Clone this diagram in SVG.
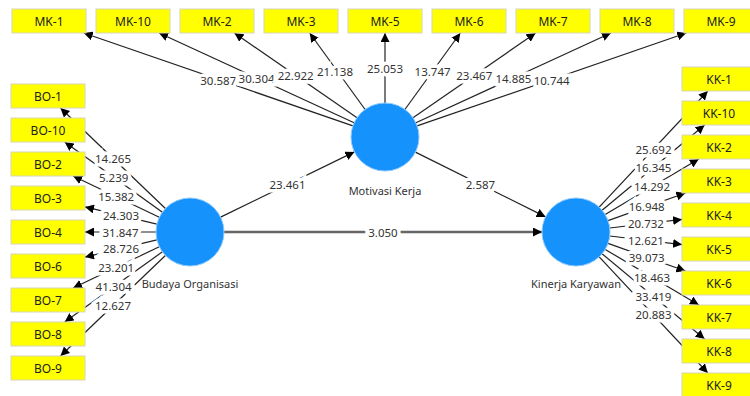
<svg xmlns="http://www.w3.org/2000/svg" width="750" height="396" viewBox="0 0 750 396">
<style>
.bg{fill:#ffffff}
.box{fill:#ffff00;stroke:#d6d6b8;stroke-width:1}
.bt{font-family:"Noto Sans","Open Sans",sans-serif;font-size:12px;fill:#222;text-anchor:middle;dominant-baseline:central}
.lv{fill:#1592fc;stroke:#8cc8fd;stroke-width:1}
.nl{font-family:"Noto Sans","Open Sans",sans-serif;font-size:11px;fill:#333;text-anchor:middle;dominant-baseline:central}
.c{stroke:#222;stroke-width:1.2;fill:none;marker-end:url(#ah)}
.cg{stroke:#666;stroke-width:2.4;fill:none;marker-end:url(#ah)}
.lb{font-family:"Noto Sans","Open Sans",sans-serif;font-size:11.5px;fill:#333;text-anchor:middle;dominant-baseline:central;stroke:#fff;stroke-width:7;paint-order:stroke;stroke-linejoin:miter}
</style>
<defs>
<marker id="ah" markerUnits="userSpaceOnUse" markerWidth="10" markerHeight="9" refX="9" refY="4.5" orient="auto">
<path d="M0,0 L9,4.5 L0,9 z" fill="#000"/>
</marker>
</defs>
<rect class="bg" x="0" y="0" width="750" height="396"/>
<g id="connectors">
<line class="c" x1="352.9" y1="125.9" x2="83.8" y2="33"/>
<line class="c" x1="354.1" y1="122.8" x2="159.1" y2="33"/>
<line class="c" x1="357" y1="117.7" x2="234.4" y2="33"/>
<line class="c" x1="365.1" y1="109.5" x2="309.7" y2="33"/>
<line class="c" x1="385" y1="103" x2="385" y2="33"/>
<line class="c" x1="404.9" y1="109.5" x2="460.3" y2="33"/>
<line class="c" x1="413" y1="117.7" x2="535.6" y2="33"/>
<line class="c" x1="415.9" y1="122.8" x2="610.9" y2="33"/>
<line class="c" x1="417.1" y1="125.9" x2="686.2" y2="33"/>
<line class="c" x1="165.4" y1="208.5" x2="60.5" y2="108"/>
<line class="c" x1="162.4" y1="212.2" x2="64.7" y2="142"/>
<line class="c" x1="159.3" y1="217.3" x2="73.1" y2="176"/>
<line class="c" x1="156.9" y1="224.1" x2="85" y2="206.9"/>
<line class="c" x1="156" y1="232" x2="85" y2="232"/>
<line class="c" x1="156.9" y1="239.9" x2="85" y2="257.1"/>
<line class="c" x1="159.3" y1="246.7" x2="73.1" y2="288"/>
<line class="c" x1="162.4" y1="251.8" x2="64.7" y2="322"/>
<line class="c" x1="165.4" y1="255.5" x2="60.5" y2="356"/>
<line class="c" x1="599.2" y1="207.2" x2="707.8" y2="91"/>
<line class="c" x1="602.1" y1="210.2" x2="704.6" y2="125"/>
<line class="c" x1="605.2" y1="214.6" x2="698.8" y2="159"/>
<line class="c" x1="608" y1="220.6" x2="685.4" y2="193"/>
<line class="c" x1="609.8" y1="228" x2="682" y2="219.4"/>
<line class="c" x1="609.8" y1="236" x2="682" y2="244.6"/>
<line class="c" x1="608" y1="243.4" x2="685.4" y2="271"/>
<line class="c" x1="605.2" y1="249.4" x2="698.8" y2="305"/>
<line class="c" x1="602.1" y1="253.8" x2="704.6" y2="339"/>
<line class="c" x1="599.2" y1="256.8" x2="707.8" y2="373"/>
<line class="c" x1="220.6" y1="217.1" x2="354.4" y2="151.9"/>
<line class="c" x1="415.4" y1="152.1" x2="545.6" y2="216.9"/>
<line class="cg" x1="224" y1="232" x2="542" y2="232"/>
<text class="lb" x="218.3" y="80">30.587</text>
<text class="lb" x="256.6" y="78">30.304</text>
<text class="lb" x="295.7" y="75.5">22.922</text>
<text class="lb" x="335" y="71.5">21.138</text>
<text class="lb" x="385" y="68.5">25.053</text>
<text class="lb" x="432.6" y="71.5">13.747</text>
<text class="lb" x="474.3" y="75.5">23.467</text>
<text class="lb" x="513.4" y="78">14.885</text>
<text class="lb" x="551.7" y="80">10.744</text>
<text class="lb" x="113" y="158.2">14.265</text>
<text class="lb" x="113.6" y="177.1">5.239</text>
<text class="lb" x="116.2" y="196.6">15.382</text>
<text class="lb" x="121" y="215.5">24.303</text>
<text class="lb" x="120.5" y="232">31.847</text>
<text class="lb" x="121" y="248.5">28.726</text>
<text class="lb" x="116.2" y="267.4">23.201</text>
<text class="lb" x="113.6" y="286.9">41.304</text>
<text class="lb" x="113" y="305.8">12.627</text>
<text class="lb" x="653.5" y="149.1">25.692</text>
<text class="lb" x="653.4" y="167.6">16.345</text>
<text class="lb" x="652" y="186.8">14.292</text>
<text class="lb" x="646.7" y="206.8">16.948</text>
<text class="lb" x="645.9" y="223.7">20.732</text>
<text class="lb" x="645.9" y="240.3">12.621</text>
<text class="lb" x="646.7" y="257.2">39.073</text>
<text class="lb" x="652" y="277.2">18.463</text>
<text class="lb" x="653.4" y="296.4">33.419</text>
<text class="lb" x="653.5" y="314.9">20.883</text>
<text class="lb" x="287.5" y="184.5">23.461</text>
<text class="lb" x="480.5" y="184.5">2.587</text>
<text class="lb" x="383" y="232">3.050</text>
</g>
<g id="motivasi-kerja"><circle class="lv" cx="385" cy="137" r="34"/><text class="nl" x="385" y="190">Motivasi Kerja</text></g>
<g id="budaya-organisasi"><circle class="lv" cx="190" cy="232" r="34"/><text class="nl" x="190" y="283">Budaya Organisasi</text></g>
<g id="kinerja-karyawan"><circle class="lv" cx="576" cy="232" r="34"/><text class="nl" x="576" y="283">Kinerja Karyawan</text></g>
<g id="MK-1"><rect class="box" x="12" y="9" width="74" height="24"/><text class="bt" x="49" y="21">MK-1</text></g>
<g id="MK-10"><rect class="box" x="96" y="9" width="74" height="24"/><text class="bt" x="133" y="21">MK-10</text></g>
<g id="MK-2"><rect class="box" x="180" y="9" width="74" height="24"/><text class="bt" x="217" y="21">MK-2</text></g>
<g id="MK-3"><rect class="box" x="264" y="9" width="74" height="24"/><text class="bt" x="301" y="21">MK-3</text></g>
<g id="MK-5"><rect class="box" x="348" y="9" width="74" height="24"/><text class="bt" x="385" y="21">MK-5</text></g>
<g id="MK-6"><rect class="box" x="432" y="9" width="74" height="24"/><text class="bt" x="469" y="21">MK-6</text></g>
<g id="MK-7"><rect class="box" x="516" y="9" width="74" height="24"/><text class="bt" x="553" y="21">MK-7</text></g>
<g id="MK-8"><rect class="box" x="600" y="9" width="74" height="24"/><text class="bt" x="637" y="21">MK-8</text></g>
<g id="MK-9"><rect class="box" x="684" y="9" width="74" height="24"/><text class="bt" x="721" y="21">MK-9</text></g>
<g id="BO-1"><rect class="box" x="11" y="84" width="74" height="24"/><text class="bt" x="48" y="96">BO-1</text></g>
<g id="BO-10"><rect class="box" x="11" y="118" width="74" height="24"/><text class="bt" x="48" y="130">BO-10</text></g>
<g id="BO-2"><rect class="box" x="11" y="152" width="74" height="24"/><text class="bt" x="48" y="164">BO-2</text></g>
<g id="BO-3"><rect class="box" x="11" y="186" width="74" height="24"/><text class="bt" x="48" y="198">BO-3</text></g>
<g id="BO-4"><rect class="box" x="11" y="220" width="74" height="24"/><text class="bt" x="48" y="232">BO-4</text></g>
<g id="BO-6"><rect class="box" x="11" y="254" width="74" height="24"/><text class="bt" x="48" y="266">BO-6</text></g>
<g id="BO-7"><rect class="box" x="11" y="288" width="74" height="24"/><text class="bt" x="48" y="300">BO-7</text></g>
<g id="BO-8"><rect class="box" x="11" y="322" width="74" height="24"/><text class="bt" x="48" y="334">BO-8</text></g>
<g id="BO-9"><rect class="box" x="11" y="356" width="74" height="24"/><text class="bt" x="48" y="368">BO-9</text></g>
<g id="KK-1"><rect class="box" x="682" y="67" width="74" height="24"/><text class="bt" x="719" y="79">KK-1</text></g>
<g id="KK-10"><rect class="box" x="682" y="101" width="74" height="24"/><text class="bt" x="719" y="113">KK-10</text></g>
<g id="KK-2"><rect class="box" x="682" y="135" width="74" height="24"/><text class="bt" x="719" y="147">KK-2</text></g>
<g id="KK-3"><rect class="box" x="682" y="169" width="74" height="24"/><text class="bt" x="719" y="181">KK-3</text></g>
<g id="KK-4"><rect class="box" x="682" y="203" width="74" height="24"/><text class="bt" x="719" y="215">KK-4</text></g>
<g id="KK-5"><rect class="box" x="682" y="237" width="74" height="24"/><text class="bt" x="719" y="249">KK-5</text></g>
<g id="KK-6"><rect class="box" x="682" y="271" width="74" height="24"/><text class="bt" x="719" y="283">KK-6</text></g>
<g id="KK-7"><rect class="box" x="682" y="305" width="74" height="24"/><text class="bt" x="719" y="317">KK-7</text></g>
<g id="KK-8"><rect class="box" x="682" y="339" width="74" height="24"/><text class="bt" x="719" y="351">KK-8</text></g>
<g id="KK-9"><rect class="box" x="682" y="373" width="74" height="24"/><text class="bt" x="719" y="385">KK-9</text></g>
</svg>
